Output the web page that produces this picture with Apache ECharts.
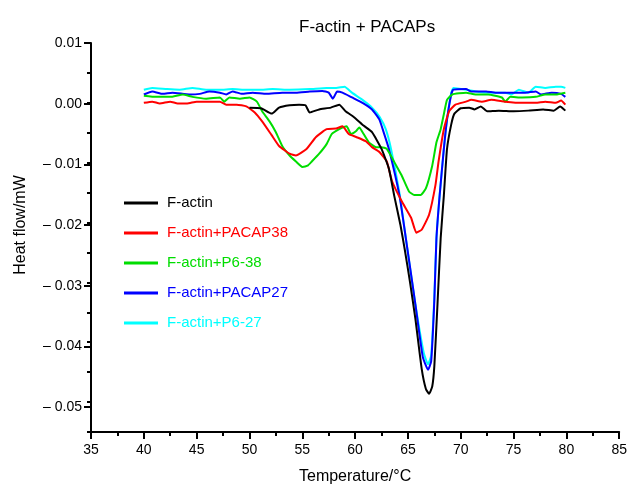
<!doctype html>
<html>
<head>
<meta charset="UTF-8">
<title>F-actin + PACAPs</title>
<script src="https://cdn.jsdelivr.net/npm/echarts@6/dist/echarts.min.js"></script>
<style>
  html, body { margin: 0; padding: 0; background: #fff; }
  #chart { width: 630px; height: 490px; }
</style>
</head>
<body>
<div id="chart"></div>
<script>
// series names / colours
var seriesNames = ['F-actin', 'F-actin+PACAP38', 'F-actin+P6-38', 'F-actin+PACAP27', 'F-actin+P6-27'];
var seriesColors = ['#000000', '#ff0000', '#00dd00', '#0000ff', '#00ffff'];

// [temperature °C, heat flow mW]
var fActin = [
  [50.0,-0.0008],[51.1,-0.0009],[52.1,-0.0018],[52.8,-0.0008],[53.8,-0.0004],[54.7,-0.0003],
  [55.3,-0.0004],[55.7,-0.0016],[56.6,-0.0011],[57.7,-0.0008],[58.5,-0.0003],[59.1,-0.0014],
  [59.9,-0.0024],[60.8,-0.0038],[61.6,-0.0049],[62.5,-0.0077],[63.2,-0.0110],[63.7,-0.0155],
  [64.3,-0.0205],[64.7,-0.0245],[65.2,-0.0300],[65.7,-0.0360],[66.3,-0.0444],[66.7,-0.0478],
  [67.0,-0.0486],[67.3,-0.0474],[67.5,-0.0440],[67.8,-0.0336],[68.1,-0.0226],[68.4,-0.0155],
  [68.7,-0.0077],[69.1,-0.0036],[69.4,-0.0018],[70.0,-0.0009],[70.8,-0.0008],[71.3,-0.0011],
  [71.9,-0.0006],[72.5,-0.0014],[73.6,-0.0013],[75.0,-0.0014],[76.4,-0.0013],[77.8,-0.0011],
  [78.8,-0.0013],[79.4,-0.0006],[79.9,-0.0013]
];
var fActinPacap38 = [
  [40.0,0.0000],[40.8,0.0002],[41.5,-0.0001],[42.5,0.0002],[43.2,-0.0001],[44.1,-0.0001],
  [45.0,0.0002],[46.2,0.0002],[47.2,0.0002],[47.8,-0.0003],[48.8,-0.0003],[49.7,-0.0006],
  [50.5,-0.0016],[51.2,-0.0031],[52.1,-0.0054],[52.8,-0.0072],[53.8,-0.0085],[54.4,-0.0088],
  [55.4,-0.0077],[56.3,-0.0057],[57.3,-0.0044],[58.2,-0.0043],[58.8,-0.0039],[59.4,-0.0052],
  [60.1,-0.0057],[61.0,-0.0064],[61.6,-0.0074],[62.3,-0.0082],[63.0,-0.0098],[63.5,-0.0131],
  [64.4,-0.0164],[65.3,-0.0192],[65.8,-0.0217],[66.3,-0.0212],[67.0,-0.0187],[67.6,-0.0138],
  [67.9,-0.0098],[68.4,-0.0044],[68.9,-0.0014],[69.5,-0.0003],[70.5,0.0002],[71.0,0.0005],
  [72.0,0.0002],[72.9,0.0005],[74.2,0.0002],[75.8,0.0000],[77.1,0.0000],[78.0,0.0002],
  [79.0,0.0000],[79.5,0.0004],[79.9,-0.0003]
];
var fActinP638 = [
  [40.0,0.0012],[41.2,0.0010],[42.5,0.0010],[43.7,0.0014],[44.6,0.0010],[45.9,0.0007],
  [47.2,0.0009],[47.6,0.0002],[48.1,0.0009],[49.1,0.0007],[50.0,0.0009],[50.7,0.0002],
  [51.2,-0.0014],[51.9,-0.0031],[52.5,-0.0049],[53.1,-0.0072],[53.8,-0.0088],[54.4,-0.0098],
  [55.0,-0.0107],[55.5,-0.0105],[55.9,-0.0098],[56.6,-0.0085],[57.3,-0.0069],[57.8,-0.0052],
  [58.5,-0.0044],[59.2,-0.0039],[59.6,-0.0052],[60.1,-0.0047],[60.4,-0.0041],[60.7,-0.0049],
  [61.3,-0.0066],[62.0,-0.0074],[62.5,-0.0074],[63.0,-0.0077],[63.9,-0.0105],[64.4,-0.0121],
  [65.1,-0.0148],[65.6,-0.0154],[66.2,-0.0154],[66.7,-0.0143],[67.3,-0.0105],[67.7,-0.0066],
  [68.1,-0.0044],[68.4,-0.0019],[68.7,0.0005],[69.2,0.0014],[70.5,0.0017],[71.4,0.0014],
  [72.6,0.0014],[73.9,0.0009],[74.2,0.0002],[74.7,0.0010],[75.8,0.0009],[77.1,0.0010],
  [78.0,0.0014],[79.0,0.0014],[79.9,0.0017]
];
var fActinPacap27 = [
  [40.0,0.0014],[40.8,0.0019],[41.8,0.0015],[42.7,0.0017],[44.3,0.0014],[45.3,0.0015],
  [46.2,0.0019],[47.2,0.0017],[47.8,0.0014],[48.4,0.0019],[49.3,0.0015],[50.3,0.0017],
  [51.6,0.0015],[53.1,0.0017],[54.4,0.0017],[55.7,0.0019],[56.9,0.0020],[57.5,0.0017],
  [57.9,0.0007],[58.3,0.0019],[58.8,0.0017],[59.7,0.0009],[60.7,0.0000],[61.6,-0.0011],
  [62.3,-0.0028],[62.7,-0.0049],[63.2,-0.0077],[64.2,-0.0155],[64.8,-0.0226],[65.7,-0.0336],
  [66.4,-0.0424],[66.9,-0.0446],[67.2,-0.0432],[67.5,-0.0330],[67.7,-0.0226],[68.0,-0.0155],
  [68.4,-0.0077],[68.7,-0.0028],[69.1,0.0014],[69.3,0.0022],[70.5,0.0023],[71.0,0.0019],
  [72.4,0.0019],[73.3,0.0017],[74.2,0.0017],[75.2,0.0017],[76.1,0.0017],[77.1,0.0019],
  [77.6,0.0014],[78.6,0.0017],[79.5,0.0015],[79.9,0.0010]
];
var fActinP627 = [
  [40.0,0.0022],[40.8,0.0025],[42.2,0.0023],[43.4,0.0022],[44.6,0.0025],[45.9,0.0022],
  [47.2,0.0022],[48.4,0.0023],[49.7,0.0022],[50.9,0.0022],[52.2,0.0023],[53.8,0.0022],
  [55.7,0.0023],[57.3,0.0025],[58.2,0.0025],[59.0,0.0027],[59.7,0.0017],[60.7,0.0005],
  [61.6,-0.0008],[62.3,-0.0023],[62.9,-0.0044],[63.4,-0.0077],[64.2,-0.0151],[64.8,-0.0226],
  [65.7,-0.0336],[66.5,-0.0418],[66.9,-0.0437],[67.2,-0.0422],[67.5,-0.0324],[67.7,-0.0226],
  [68.0,-0.0155],[68.4,-0.0077],[68.7,-0.0028],[69.1,0.0017],[69.3,0.0025],[70.5,0.0022],
  [71.7,0.0018],[72.9,0.0017],[74.2,0.0017],[74.8,0.0014],[75.5,0.0022],[76.4,0.0017],
  [77.1,0.0027],[78.0,0.0025],[79.0,0.0027],[79.5,0.0027],[79.9,0.0025]
];
var seriesData = [fActin, fActinPacap38, fActinP638, fActinPacap27, fActinP627];

// y tick label values (major)
var yMajorMin = -0.05, yMajorMax = 0.01, yMajorStep = 0.01;

var FONT = '"Liberation Sans", Arial, sans-serif';

function yLabel(v) {
  var n = Math.round(v * 100);
  if (n === 0) return '0.00';
  if (n > 0) return (n / 100).toFixed(2);
  return '\u2013 ' + (Math.abs(n) / 100).toFixed(2);
}

var myChart = echarts.init(document.getElementById('chart'));

var series = seriesNames.map(function (name, i) {
  return {
    name: name,
    type: 'line',
    xAxisIndex: 0,
    yAxisIndex: 0,
    data: seriesData[i],
    symbol: 'none',
    smooth: 0.15,
    lineStyle: { color: seriesColors[i], width: 2 },
    itemStyle: { color: seriesColors[i] },
    z: 5 - i
  };
});

var option = {
  animation: false,
  backgroundColor: '#fff',
  title: {
    text: 'F-actin + PACAPs',
    left: 294,
    top: 14,
    textStyle: { fontFamily: FONT, fontSize: 17, fontWeight: 'normal', color: '#000' }
  },
  legend: {
    orient: 'vertical',
    left: 119,
    top: 189,
    icon: 'rect',
    itemWidth: 34,
    itemHeight: 3,
    itemGap: 12,
    textStyle: { fontFamily: FONT, fontSize: 15, lineHeight: 18, padding: [0, 0, 0, 4] },
    data: seriesNames.map(function (name, i) {
      return { name: name, textStyle: { color: seriesColors[i] } };
    })
  },
  grid: [
    { left: 91, right: 9, top: 43, bottom: 53 },
    { left: 91, right: 9, top: 43, bottom: 83 }
  ],
  xAxis: [
    {
      gridIndex: 0,
      type: 'value',
      min: 35,
      max: 85,
      interval: 5,
      name: 'Temperature/\u00b0C',
      nameLocation: 'middle',
      nameGap: 37,
      nameTextStyle: { fontFamily: FONT, fontSize: 16, color: '#000' },
      axisLine: { onZero: false, lineStyle: { color: '#000', width: 2 } },
      axisTick: { length: 7, lineStyle: { color: '#000', width: 2 } },
      minorTick: { show: true, splitNumber: 2, length: 4, lineStyle: { color: '#000', width: 2 } },
      axisLabel: { fontFamily: FONT, fontSize: 14, color: '#000', margin: 11 },
      splitLine: { show: false }
    },
    { gridIndex: 1, type: 'value', min: 35, max: 85, show: false }
  ],
  yAxis: [
    {
      // main axis carrying the data: line and minor ticks
      gridIndex: 0,
      type: 'value',
      min: -0.055,
      max: 0.01,
      interval: 0.005,
      axisLine: { show: true, onZero: false, lineStyle: { color: '#000', width: 2 } },
      axisTick: { length: 4, lineStyle: { color: '#000', width: 2 } },
      axisLabel: { show: false },
      splitLine: { show: false }
    },
    {
      // overlay axis for major ticks and labels
      gridIndex: 1,
      type: 'value',
      min: yMajorMin,
      max: yMajorMax,
      interval: yMajorStep,
      name: 'Heat flow/mW',
      nameLocation: 'middle',
      nameGap: 62,
      nameTextStyle: { fontFamily: FONT, fontSize: 16, color: '#000' },
      axisLine: { show: false, onZero: false },
      axisTick: { length: 7, lineStyle: { color: '#000', width: 2 } },
      axisLabel: { fontFamily: FONT, fontSize: 14, color: '#000', margin: 9, formatter: yLabel },
      splitLine: { show: false }
    }
  ],
  series: series
};

myChart.setOption(option);
</script>
</body>
</html>
